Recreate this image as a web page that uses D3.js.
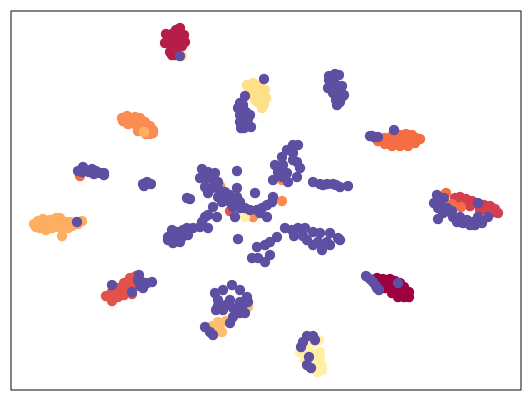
<!DOCTYPE html>
<html>
<head>
<meta charset="utf-8">
<script src="https://d3js.org/d3.v7.min.js"></script>
<style>
  body { margin: 0; background: #fff; }
  svg { display: block; }
</style>
</head>
<body>
<svg width="531" height="401"></svg>
<script>
// embedding values, one list per class
var class0 = [[111,-78],[117,-79],[124,-79],[129,-81],[134,-83],[138,-87],[143,-92],[143,-97],[138,-97],[132,-97],[126,-93],[119,-88],[114,-83],[124,-86],[131,-89],[137,-92]];
var class1 = [[-86,172],[-94,166],[-100,166],[-82,165],[-90,162],[-101,157],[-96,158],[-88,158],[-81,158],[-94,152],[-84,154],[-96,148],[-88,148],[-94,145],[-90,145],[-91,150],[-83,163],[-90,170]];
var class2 = [[189,2],[194,3],[200,1],[206,-1],[212,-4],[218,-5],[224,-6],[229,-9],[232,-13],[224,-12],[214,-10],[204,-6],[196,-4],[190,-3],[228,-12],[219,-9]];
var class3 = [[-154,-101],[-160,-96],[-154,-92],[-148,-88],[-142,-83],[-136,-78],[-130,-76],[-148,-97],[-142,-95],[-136,-90],[-134,-94],[-140,-88],[-134,-83],[-36,-11]];
var class4 = [[114,61],[119,62],[126,64],[134,65],[140,66],[146,65],[150,62],[154,61],[149,57],[142,54],[134,54],[126,54],[119,56],[112,59],[129,59],[139,60],[146,60],[122,59],[180,7],[195,-7],[186,-4],[-186,24]];
var class5 = [[-144,82],[-139,84],[-131,83],[-126,82],[-121,78],[-116,74],[-143,79],[-138,76],[-131,76],[-124,73],[-118,71],[-128,69],[-120,66],[-113,67],[-113,70],[-116,66],[-46,14],[16,-1],[-13,-17],[16,20]];
var class6 = [[-232,-24],[-228,-21],[-223,-19],[-216,-20],[-210,-18],[-206,-18],[-200,-22],[-196,-22],[-190,-22],[-184,-21],[-188,-24],[-226,-28],[-220,-30],[-214,-28],[-208,-27],[-202,-26],[-198,-28],[-204,-36],[-230,-27],[-218,-26],[-194,-26],[-122,68]];
var class7 = [[-48,-122],[-40,-121],[-54,-126],[-46,-128],[-50,-132],[-44,-132],[-56,-132],[-18,-107],[-22,-111]];
var class8 = [[-19,115],[-13,117],[-6,115],[-1,110],[-17,108],[-10,108],[-4,105],[0,102],[-8,98],[-2,96],[-4,92],[-11,100],[-14,112],[-84,144]];
var class9 = [[34,-152],[40,-145],[49,-142],[54,-152],[44,-152],[39,-160],[49,-162],[56,-170],[51,-172],[43,-158],[48,-155],[54,-158],[56,-166],[53,-140],[-21,-17]];

// the big last class is spread over every cluster
var class10 = [
  [-86,144],
  [-2,121],[-21,104],[-26,97],[-23,95],[-28,92],[-20,88],[-26,85],[-16,85],[-22,82],[-18,81],[-26,78],[-20,78],[-22,72],[-17,74],[-25,72],[-15,73],
  [63,124],[69,126],[73,125],[63,120],[68,118],[62,112],[67,113],[72,114],[76,114],[71,108],[78,105],[67,107],[72,102],[77,104],[70,100],[74,98],[71,95],
  [128,70],[104,64],[108,63],[112,63],[106,64],
  [-183,33],[-188,29],[-184,28],[-179,29],[-174,31],[-170,29],[-166,27],[-162,27],[-172,26],[-177,28],[-162,25],
  [-123,16],[-119,18],[-115,16],[-122,14],
  [132,-83],[100,-76],[104,-79],[107,-82],[110,-86],[113,-90],[111,-88],
  [171,5],[178,2],[168,-3],[174,-5],[181,-8],[172,-19],[184,-12],[177,-13],[187,-17],[191,-22],[197,-23],[204,-25],[209,-25],[216,-23],[222,-17],[212,-17],[216,-22],[194,-17],[201,-20],[212,-3],[207,-22],[186,-11],[176,-8],[172,-8],
  [-154,-85],[-134,-92],[-127,-75],[-128,-80],[-124,-82],[-123,-88],[-119,-83],[-114,-82],[-126,-86],
  [-189,-22],
  [-34,-85],[-51,-93],[-43,-90],[-26,-90],[-19,-97],[-48,-100],[-36,-100],[-26,-102],[-18,-102],[-50,-110],[-43,-110],[-33,-108],[-24,-107],[-26,-113],[-33,-117],[-21,-113],[-36,-123],[-61,-127],[-56,-132],[-53,-135],[-40,-105],[-48,-106],
  [41,-136],[47,-136],[49,-140],[37,-142],[35,-147],[43,-157],[41,-165],[45,-168],
  [47,18],[54,16],[61,16],[67,16],[74,13],[82,14],[57,15],[70,15],
  [27,55],[32,55],[21,50],[16,43],[27,47],[9,35],[17,35],[31,38],[7,20],[12,28],[21,27],[34,32],[22,18],[31,23],[16,23],[27,40],
  [-64,31],[-58,28],[-51,27],[-66,22],[-59,22],[-53,20],[-48,18],[-61,13],[-54,12],[-48,12],[-41,8],[-36,5],[-58,7],[-48,3],[-41,2],[-44,-2],[-36,-2],[-29,12],[-29,29],[-29,3],[-26,-2],[-33,-7],[-26,-8],[-21,-8],[-16,-10],[-9,-10],[-4,-8],[1,-5],[7,3],[6,-2],[-11,7],[-31,-17],[1,-17],[-6,-13],
  [-53,-7],[-49,-17],[-58,-15],[-61,-17],[-64,-22],[-58,-28],[-66,-27],[-73,-28],[-79,-28],[-83,-30],[-94,-30],[-89,-32],[-98,-37],[-91,-38],[-86,-42],[-78,-35],[-84,-37],[-98,-40],[-79,2],[-76,1],[-28,-39],[-93,-43],
  [19,-28],[26,-30],[32,-28],[39,-28],[47,-32],[54,-33],[64,-33],[72,-38],[74,-40],[56,-50],[47,-45],[64,-45],[41,-40],[52,-42],[61,-42],[11,-37],[4,-42],[-9,-47],[-1,-45],[4,-55],[-1,-62],[-14,-58],[-8,-58],[28,-36],[37,-36]
];

var classes = [class0, class1, class2, class3, class4, class5, class6, class7, class8, class9, class10];
var colors = ["#9e0142", "#b61d48", "#d53e4f", "#e2524a", "#f46d43", "#fc8d52", "#fdae61", "#fdbf6f", "#fee08b", "#fff0a6", "#5e4fa2"];

var svg = d3.select("svg"),
margin = {top: 11, right: 10, bottom: 11, left: 11},
width = +svg.attr("width") - margin.left - margin.right,
height = +svg.attr("height") - margin.top - margin.bottom;

var x = d3.scaleLinear().domain([-255, 255]).range([margin.left, margin.left + width]),
y = d3.scaleLinear().domain([-190, 189]).range([margin.top + height, margin.top]);

var layer = svg.selectAll(".layer")
.data(classes)
.enter().append("g")
.attr("class", "layer")
.attr("fill", function(d, i) { return colors[i]; });

layer.selectAll("circle")
.data(function(d) { return d; })
.enter().append("circle")
.attr("cx", function(d) { return x(d[0]); })
.attr("cy", function(d) { return y(d[1]); })
.attr("r", 5.2);

// no ticks in this plot, only the frame
svg.append("rect")
.attr("x", x.range()[0])
.attr("y", y.range()[1])
.attr("width", width)
.attr("height", height)
.attr("fill", "none")
.attr("stroke", "#222")
.attr("stroke-width", 1.1);
</script>
</body>
</html>
